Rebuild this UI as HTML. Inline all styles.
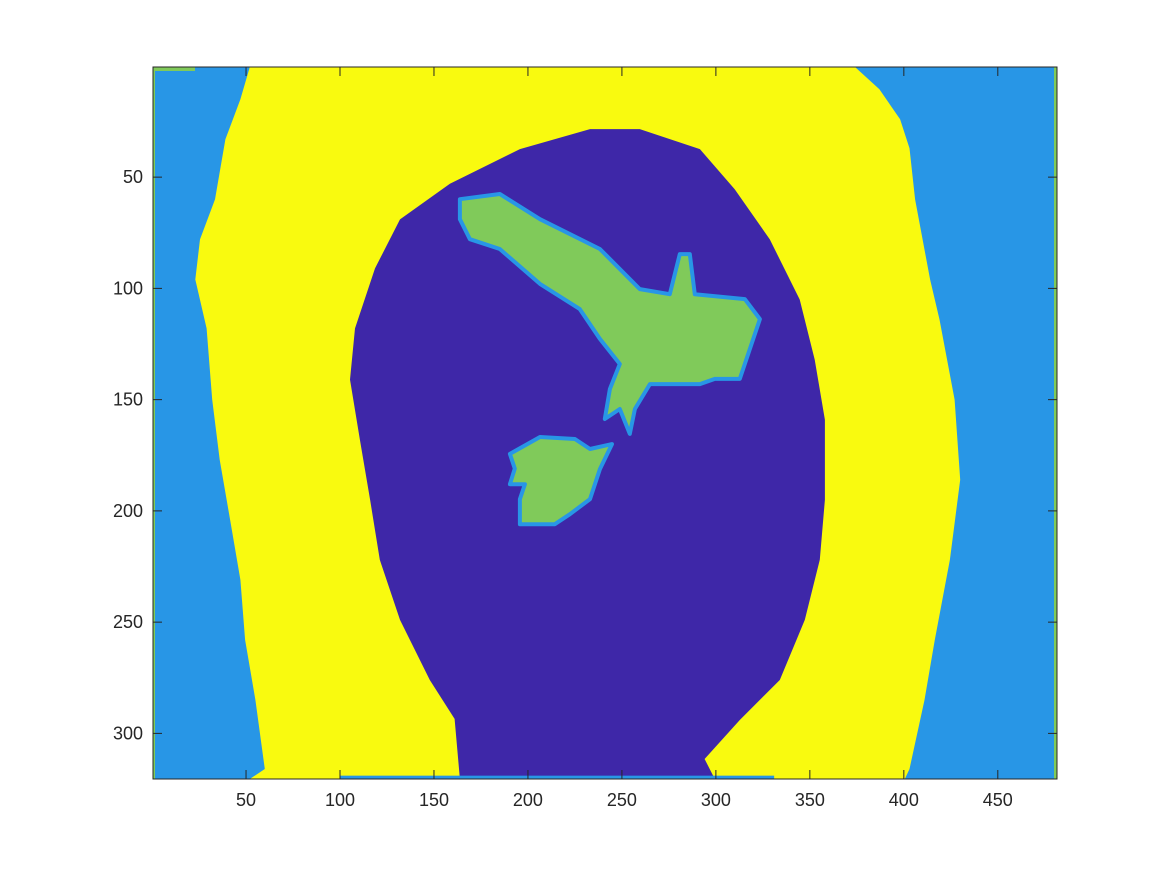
<!DOCTYPE html>
<html><head><meta charset="utf-8"><style>
html,body{margin:0;padding:0;background:#fff;}
svg{display:block;font-family:"Liberation Sans",Arial,sans-serif;}
</style></head><body>
<svg id="chart" width="1167" height="875" viewBox="0 0 1167 875"></svg>
<script>
const xTicks=[50,100,150,200,250,300,350,400,450];
const yTicks=[50,100,150,200,250,300];
const nCols=481, nRows=320;
const yellowRegion=[[52,0.5],[47,15],[39,33],[33.5,60],[25.5,78],[23,96],[29,118],[32,150],[36,177],[41.5,204],[47,231],[49.5,258],[55,285],[60,316],[52,320.5],[400.5,320.5],[403,316],[411,285],[416.5,258],[424.5,222],[430,186],[427,150],[419,114],[414,96],[406,60],[403,37],[398,24],[387,10.5],[374,0.5]];
const darkRegion=[[158.5,53],[195.7,37.4],[233,28.4],[259.5,28.4],[291.5,37.4],[310,55.4],[328.7,78],[344.6,105],[352.6,132],[358,159],[358,195],[355.3,222],[347.3,249],[334,276],[312.7,294],[294,311.5],[299.4,320.5],[163.8,320.5],[161,293.5],[147.8,276],[131.9,249],[121.2,222],[116,195],[110.6,168],[105.3,141],[108,118],[118.6,91],[131.9,69]];
const birdRegion=[[163.8,59.9],[185,57.6],[206.4,68.9],[238.3,82.3],[259.5,100.3],[275.5,102.6],[280.8,84.6],[286.1,84.6],[288.8,102.6],[315.4,104.8],[323.4,113.8],[312.7,140.7],[299.4,140.7],[291.5,143],[264.9,143],[256.9,154.2],[254.2,165.4],[248.9,154.2],[240.9,158.7],[243.6,145.2],[248.9,134],[238.3,122.7],[227.6,109.3],[206.4,98],[185,82.3],[169.1,77.9],[163.8,68.9]];
const blobRegion=[[190.4,174.4],[206.4,166.8],[225,167.7],[233,172.2],[244.7,170],[238.3,181.2],[233,194.7],[222.3,201.5],[214.3,206],[195.7,206],[195.7,194.7],[198.4,188],[190.4,188],[193,181]];

const L=153,R=1057,T=67,B=779;
const xs=c=>L+(c-0.5)*(R-L)/nCols;
const ys=r=>T+(r-0.5)*(B-T)/nRows;
const svg=document.getElementById('chart');
const NS='http://www.w3.org/2000/svg';
function mk(tag,attrs){const e=document.createElementNS(NS,tag);for(const k in attrs)e.setAttribute(k,attrs[k]);svg.appendChild(e);return e;}
const pts=a=>a.map(p=>xs(p[0]).toFixed(1)+','+ys(p[1]).toFixed(1)).join(' ');

let bg=mk('rect',{x:L,y:T,width:R-L,height:B-T,fill:'#2896e6'});


let g1=mk('rect',{x:R-3,y:T,width:3,height:B-T,fill:'#80ca5a'});


let g2=mk('rect',{x:L,y:T,width:2,height:B-T,fill:'#80ca5a'});


let g3=mk('rect',{x:L,y:T,width:42,height:4,fill:'#80ca5a'});


let y1=mk('polygon',{points:pts(yellowRegion),fill:'#f9fa0f'});


let d1=mk('polygon',{points:pts(darkRegion),fill:'#3e27a8'});


let bs=mk('rect',{x:xs(100),y:ys(319),width:xs(331)-xs(100),height:B-ys(319),fill:'#2896e6'});


let b1=mk('polygon',{points:pts(birdRegion),fill:'#80ca5a',stroke:'#2896e6','stroke-width':4,'stroke-linejoin':'round'});


let b2=mk('polygon',{points:pts(blobRegion),fill:'#80ca5a',stroke:'#2896e6','stroke-width':4,'stroke-linejoin':'round'});


let ax=mk('rect',{x:L,y:T,width:R-L,height:B-T,fill:'none',stroke:'#262626','stroke-width':1});


xTicks.forEach(v=>{
  const x=xs(v);
  let t=mk('line',{x1:x,x2:x,y1:B,y2:B-9,stroke:'#262626'});
  
  
  let t2=mk('line',{x1:x,x2:x,y1:T,y2:T+9,stroke:'#262626'});
  
  
  let l=mk('text',{x:x,y:B+27,'text-anchor':'middle','font-size':18,fill:'#262626'});
  l.textContent=v;
  
  
});
yTicks.forEach(v=>{
  const y=ys(v);
  let t=mk('line',{x1:L,x2:L+9,y1:y,y2:y,stroke:'#262626'});
  
  
  let t2=mk('line',{x1:R,x2:R-9,y1:y,y2:y,stroke:'#262626'});
  
  
  let l=mk('text',{x:L-10,y:y+6,'text-anchor':'end','font-size':18,fill:'#262626'});
  l.textContent=v;
  
  
});
</script>
</body></html>
